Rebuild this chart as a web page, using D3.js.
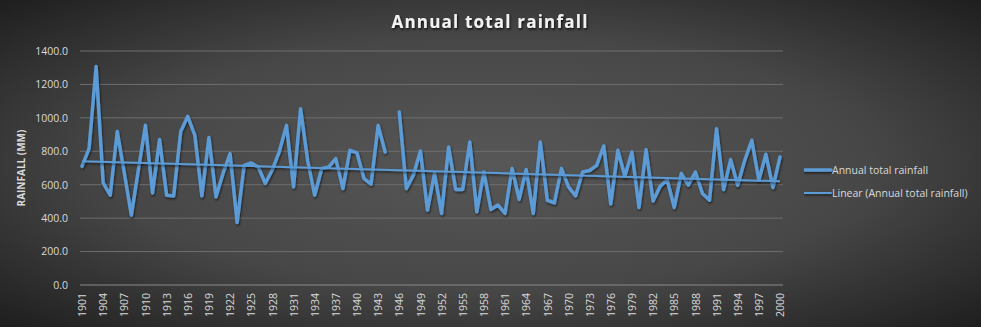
<!DOCTYPE html>
<html><head><meta charset="utf-8">
<script src="https://cdn.jsdelivr.net/npm/d3@7"></script>
<style>
html,body{margin:0;padding:0;background:#2a2a2a}
svg{display:block}
</style></head>
<body><div id="chart"></div>
<script>
const years = [1901,1902,1903,1904,1905,1906,1907,1908,1909,1910,1911,1912,1913,1914,1915,1916,1917,1918,1919,1920,
1921,1922,1923,1924,1925,1926,1927,1928,1929,1930,1931,1932,1933,1934,1935,1936,1937,1938,1939,1940,
1941,1942,1943,1944,1945,1946,1947,1948,1949,1950,1951,1952,1953,1954,1955,1956,1957,1958,1959,1960,
1961,1962,1963,1964,1965,1966,1967,1968,1969,1970,1971,1972,1973,1974,1975,1976,1977,1978,1979,1980,
1981,1982,1983,1984,1985,1986,1987,1988,1989,1990,1991,1992,1993,1994,1995,1996,1997,1998,1999,2000];
const rainfall = [710,816,1307,611,537,919,670,418,690,955,551,870,537,533,919,1009,896,533,882,527,
667,786,374,716,730,706,607,690,800,955,587,1055,746,537,697,706,756,577,806,790,
637,603,955,796,null,1035,577,657,802,448,667,428,826,571,571,856,438,676,452,478,
428,697,512,691,428,856,507,491,697,587,533,676,685,716,832,484,806,651,796,464,
810,503,590,630,464,667,597,676,547,507,935,571,750,597,746,866,627,782,583,766];
const yTicks = [0,200,400,600,800,1000,1200,1400];
const xTickLabels = years.filter((y,i)=>i%3===0);
const seriesName = "Annual total rainfall";
const trendName = "Linear (Annual total rainfall)";

const W=981,H=327;
const m={left:82,right:201,top:51,bottom:42};
const svg=d3.select("#chart").append("svg").attr("width",W).attr("height",H);
const defs=svg.append("defs");
const rg=defs.append("radialGradient").attr("id","bg").attr("cx","50%").attr("cy","50%").attr("r","70%");
rg.append("stop").attr("offset","0%").attr("stop-color","#575757");
rg.append("stop").attr("offset","55%").attr("stop-color","#474747");
rg.append("stop").attr("offset","100%").attr("stop-color","#1f1f1f");
const sh=defs.append("filter").attr("id","sh").attr("filterUnits","userSpaceOnUse")
 .attr("x",0).attr("y",0).attr("width",W).attr("height",H);
sh.append("feDropShadow").attr("dx",0.8).attr("dy",1.5).attr("stdDeviation",1.2).attr("flood-color","#000").attr("flood-opacity",0.6);
const tsh=defs.append("filter").attr("id","tsh");
tsh.append("feDropShadow").attr("dx",1).attr("dy",1.5).attr("stdDeviation",0.8).attr("flood-color","#000").attr("flood-opacity",0.8);

svg.append("rect").attr("width",W).attr("height",H).attr("fill","url(#bg)");

const x=d3.scalePoint().domain(years).range([m.left,W-m.right]);
const y=d3.scaleLinear().domain([0,1400]).range([H-m.bottom,m.top]);

// grid
svg.append("g").selectAll("line").data(yTicks).join("line")
 .attr("x1",m.left-2).attr("x2",W-m.right+3)
 .attr("y1",d=>y(d)).attr("y2",d=>y(d))
 .attr("stroke",d=>d===0?"#8a8a8a":"#6e6e6e").attr("stroke-width",1);

// y axis labels
const yAxis=d3.axisLeft(y).tickValues(yTicks).tickFormat(d3.format(".1f")).tickSize(0).tickPadding(14);
const ga=svg.append("g").attr("transform",`translate(${m.left},0)`).call(yAxis);
ga.select(".domain").remove();
ga.selectAll("text").attr("fill","#d9d9d9").attr("font-family","'Open Sans',sans-serif").attr("font-size",10.5);

svg.append("text").attr("transform",`translate(25,${(y(0)+y(1400))/2}) rotate(-90)`)
 .attr("text-anchor","middle").attr("fill","#d9d9d9").attr("font-family","'Open Sans',sans-serif")
 .attr("font-weight","bold").attr("font-size",10).text("RAINFALL (MM)");

// x axis labels
const xAxis=d3.axisBottom(x).tickValues(xTickLabels).tickSize(0).tickPadding(0);
const gx=svg.append("g").attr("transform",`translate(0,${y(0)})`).call(xAxis);
gx.select(".domain").remove();
gx.selectAll("text").attr("fill","#d9d9d9").attr("font-family","'Open Sans',sans-serif").attr("font-size",10.5)
 .attr("text-anchor","end").attr("dy","0.35em").attr("transform","translate(0,8) rotate(-90)").attr("x",0).attr("y",0);

// trend line (least squares on data)
const pts=years.map((yr,i)=>({i,v:rainfall[i]})).filter(d=>d.v!=null);
const mx=d3.mean(pts,d=>d.i), my=d3.mean(pts,d=>d.v);
const slope=d3.sum(pts,d=>(d.i-mx)*(d.v-my))/d3.sum(pts,d=>(d.i-mx)**2);
const icpt=my-slope*mx;
const trend=[0,years.length-1].map(i=>({yr:years[i],v:icpt+slope*i}));

const line=d3.line().defined(d=>d.v!=null).x(d=>x(d.yr)).y(d=>y(d.v));
const data=years.map((yr,i)=>({yr,v:rainfall[i]}));
const col="#5b9bd5";
svg.append("path").datum(data).attr("d",line).attr("fill","none").attr("stroke",col)
 .attr("stroke-width",3.5).attr("stroke-linejoin","round").attr("stroke-linecap","round").attr("filter","url(#sh)");
svg.append("path").datum(trend).attr("d",line).attr("fill","none").attr("stroke",col)
 .attr("stroke-width",2).attr("filter","url(#sh)");

// legend
const lg=svg.append("g").attr("transform","translate(804,0)");
[[seriesName,3.5,170],[trendName,2,193]].forEach(([t,w,yy])=>{
  lg.append("line").attr("x1",0).attr("x2",27).attr("y1",yy).attr("y2",yy).attr("stroke",col).attr("stroke-width",w)
   .attr("stroke-linecap","round").attr("filter","url(#sh)");
  lg.append("text").attr("x",28).attr("y",yy).attr("dy","0.35em").attr("fill","#d9d9d9")
   .attr("font-family","'Open Sans',sans-serif").attr("font-size",10.5).text(t);
});

// title
svg.append("text").attr("x",490).attr("y",28).attr("text-anchor","middle").attr("fill","#f2f2f2")
 .attr("font-family","'Open Sans',sans-serif").attr("font-weight","bold").attr("font-size",17)
 .attr("letter-spacing",1.2).attr("filter","url(#tsh)").text("Annual total rainfall");
</script></body></html>
